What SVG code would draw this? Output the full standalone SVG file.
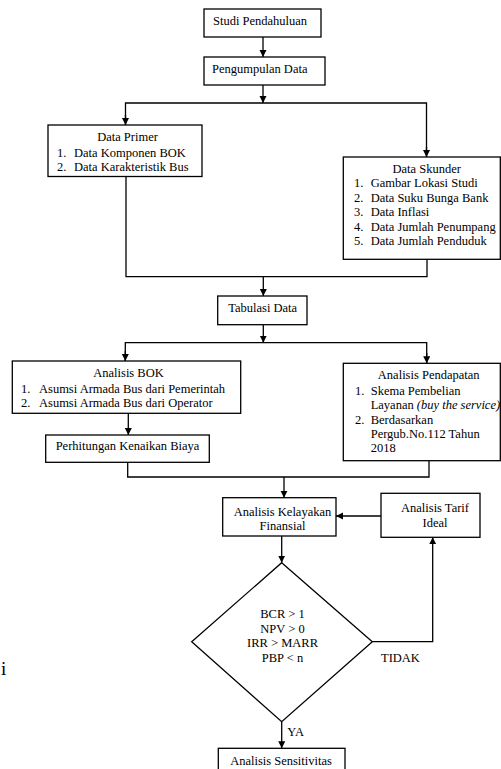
<svg xmlns="http://www.w3.org/2000/svg" width="501" height="769" viewBox="0 0 501 769">
<style>
.box{fill:#fff;stroke:#000;stroke-width:1.3}
.t{font-family:"Liberation Serif","Times New Roman",serif;font-size:12.5px;fill:#000}
.c{text-anchor:middle}
.ln{fill:none;stroke:#000;stroke-width:1.3}
</style>
<defs>
<marker id="ah" markerUnits="userSpaceOnUse" markerWidth="8" markerHeight="8" refX="7" refY="3.5" orient="auto">
<path d="M0,0 L7,3.5 L0,7 z" fill="#000"/>
</marker>
</defs>
<rect width="501" height="769" fill="#fff"/>
<g id="connectors">
<line class="ln" x1="263" y1="37" x2="263" y2="57" marker-end="url(#ah)"/>
<line class="ln" x1="263" y1="85" x2="263" y2="103" marker-end="url(#ah)"/>
<polyline class="ln" points="125.5,125 125.5,103 426.5,103 426.5,157"/>
<line class="ln" x1="125.5" y1="115" x2="125.5" y2="125" marker-end="url(#ah)"/>
<line class="ln" x1="426.5" y1="147" x2="426.5" y2="157" marker-end="url(#ah)"/>
<polyline class="ln" points="126,176.5 126,276.7 427,276.7 427,259.3"/>
<line class="ln" x1="263.3" y1="276.7" x2="263.3" y2="296" marker-end="url(#ah)"/>
<line class="ln" x1="263.3" y1="324.7" x2="263.3" y2="342.7" marker-end="url(#ah)"/>
<polyline class="ln" points="125.3,361 125.3,342.7 426.7,342.7 426.7,363.3"/>
<line class="ln" x1="125.3" y1="351" x2="125.3" y2="361" marker-end="url(#ah)"/>
<line class="ln" x1="426.7" y1="353" x2="426.7" y2="363.3" marker-end="url(#ah)"/>
<line class="ln" x1="128.3" y1="413.3" x2="128.3" y2="435" marker-end="url(#ah)"/>
<polyline class="ln" points="127.7,462.3 127.7,477 429,477 429,460.7"/>
<line class="ln" x1="284" y1="477" x2="284" y2="497.7" marker-end="url(#ah)"/>
<line class="ln" x1="381" y1="516" x2="336" y2="516" marker-end="url(#ah)"/>
<line class="ln" x1="281.7" y1="536" x2="281.7" y2="562.7" marker-end="url(#ah)"/>
<polyline class="ln" points="372.3,641.7 432.7,641.7 432.7,537.3" marker-end="url(#ah)"/>
<line class="ln" x1="281.7" y1="721.7" x2="281.7" y2="748.3" marker-end="url(#ah)"/>
<text class="t" x="381" y="662">TIDAK</text>
<text class="t" x="287.3" y="736">YA</text>
</g>
<g id="studi">
<rect class="box" x="204" y="9" width="117" height="28"/>
<text class="t" x="213" y="25">Studi Pendahuluan</text>
</g>
<g id="pengumpulan">
<rect class="box" x="204" y="57" width="121" height="28"/>
<text class="t" x="212" y="73">Pengumpulan Data</text>
</g>
<g id="primer">
<rect class="box" x="48" y="125" width="154" height="51.5"/>
<text class="t c" x="127.5" y="141">Data Primer</text>
<text class="t" x="57" y="157">1.</text><text class="t" x="74" y="157">Data Komponen BOK</text>
<text class="t" x="57" y="170.5">2.</text><text class="t" x="74" y="170.5">Data Karakteristik Bus</text>
</g>
<g id="skunder">
<rect class="box" x="343.3" y="157" width="157" height="102.3"/>
<text class="t c" x="426.7" y="173">Data Skunder</text>
<text class="t" x="354" y="187">1.</text><text class="t" x="370.7" y="187">Gambar Lokasi Studi</text>
<text class="t" x="354" y="201.5">2.</text><text class="t" x="370.7" y="201.5">Data Suku Bunga Bank</text>
<text class="t" x="354" y="216">3.</text><text class="t" x="370.7" y="216">Data Inflasi</text>
<text class="t" x="354" y="230.5">4.</text><text class="t" x="370.7" y="230.5">Data Jumlah Penumpang</text>
<text class="t" x="354" y="245">5.</text><text class="t" x="370.7" y="245">Data Jumlah Penduduk</text>
</g>
<g id="tabulasi">
<rect class="box" x="217.7" y="296" width="89.3" height="28.7"/>
<text class="t c" x="262.7" y="311.7">Tabulasi Data</text>
</g>
<g id="bok">
<rect class="box" x="12.3" y="361" width="228.4" height="52.3"/>
<text class="t c" x="128.5" y="377">Analisis BOK</text>
<text class="t" x="21" y="392.7">1.</text><text class="t" x="39" y="392.7">Asumsi Armada Bus dari Pemerintah</text>
<text class="t" x="21" y="407">2.</text><text class="t" x="39" y="407">Asumsi Armada Bus dari Operator</text>
</g>
<g id="pendapatan">
<rect class="box" x="343.3" y="363.3" width="157" height="97.4"/>
<text class="t c" x="428.7" y="378.7">Analisis Pendapatan</text>
<text class="t" x="355" y="394.5">1.</text><text class="t" x="370.7" y="394.5">Skema Pembelian</text>
<text class="t" x="370.7" y="408.7">Layanan <tspan font-style="italic">(buy the service)</tspan></text>
<text class="t" x="355" y="423.5">2.</text><text class="t" x="370.7" y="423.5">Berdasarkan</text>
<text class="t" x="370.7" y="437.8">Pergub.No.112 Tahun</text>
<text class="t" x="370.7" y="452">2018</text>
</g>
<g id="perhitungan">
<rect class="box" x="45.7" y="435" width="163.6" height="27.3"/>
<text class="t c" x="127.5" y="450">Perhitungan Kenaikan Biaya</text>
</g>
<g id="kelayakan">
<rect class="box" x="222.7" y="497.7" width="113.3" height="38.3"/>
<text class="t c" x="282.5" y="515.5">Analisis Kelayakan</text>
<text class="t c" x="282.5" y="530">Finansial</text>
</g>
<g id="tarif">
<rect class="box" x="381" y="493.3" width="99" height="44"/>
<text class="t c" x="435" y="511.5">Analisis Tarif</text>
<text class="t c" x="435" y="527">Ideal</text>
</g>
<g id="keputusan">
<polygon class="box" points="281.7,562.7 372.3,641.7 281.7,721.7 191.7,641.7"/>
<text class="t c" x="282.5" y="617.8">BCR &gt; 1</text>
<text class="t c" x="282.5" y="632.8">NPV &gt; 0</text>
<text class="t c" x="282.5" y="647">IRR &gt; MARR</text>
<text class="t c" x="282.5" y="661.8">PBP &lt; n</text>
</g>
<g id="sensitivitas">
<rect class="box" x="218.3" y="748.3" width="126.7" height="25"/>
<text class="t c" x="281" y="764.5">Analisis Sensitivitas</text>
</g>
<text x="1" y="675" font-family="Liberation Serif, serif" font-size="19" fill="#000">i</text>
</svg>
